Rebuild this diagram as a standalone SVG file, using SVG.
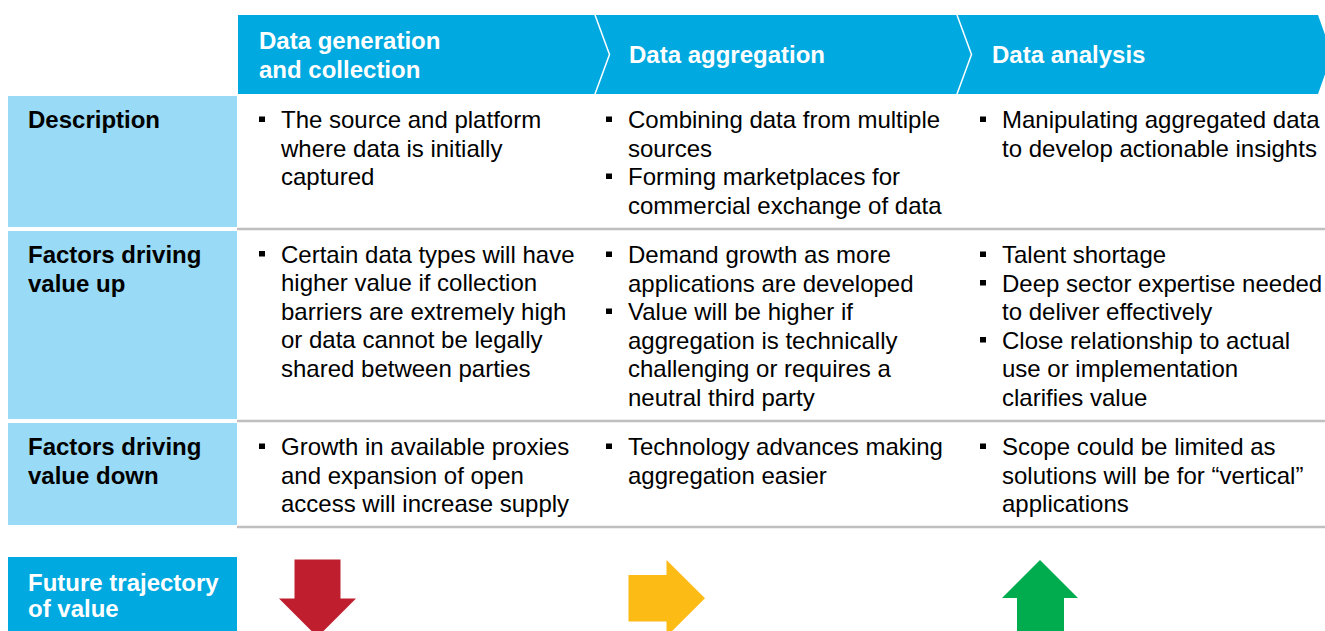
<svg xmlns="http://www.w3.org/2000/svg" width="1325" height="631" viewBox="0 0 1325 631">
<style>
  .hdr { font-family: "Liberation Sans", Arial, sans-serif; font-size: 24px; font-weight: bold; fill: #FFFFFF; }
  .lbl { font-family: "Liberation Sans", Arial, sans-serif; font-size: 24px; font-weight: bold; fill: #000000; }
  .txt { font-family: "Liberation Sans", Arial, sans-serif; font-size: 24px; fill: #000000; }
  .lblbox { fill: #99DBF6; }
  .bluebox { fill: #00A9E0; }
  .sep { stroke: #BFBFBF; stroke-width: 2.5; fill: none; }
  .chev { stroke: #FFFFFF; stroke-width: 1.5; fill: none; }
  .bul { fill: #000000; }
</style>
<rect x="0" y="0" width="1325" height="631" fill="#FFFFFF"/>

<g id="header">
  <polygon class="bluebox" points="238,15 1318,15 1332,54.5 1318,94 238,94"/>
  <polyline class="chev" points="595,15 609.5,54.5 595,94"/>
  <polyline class="chev" points="957,15 971.5,54.5 957,94"/>
  <g id="stage-generation">
    <text class="hdr" x="259" y="48.5">Data generation</text>
    <text class="hdr" x="259" y="77.5">and collection</text>
  </g>
  <g id="stage-aggregation">
    <text class="hdr" x="629" y="63">Data aggregation</text>
  </g>
  <g id="stage-analysis">
    <text class="hdr" x="992" y="63">Data analysis</text>
  </g>
</g>

<g id="row-labels">
  <g id="label-description">
    <rect class="lblbox" x="8" y="96" width="229" height="131"/>
    <text class="lbl" x="28" y="128">Description</text>
  </g>
  <g id="label-up">
    <rect class="lblbox" x="8" y="231" width="229" height="188"/>
    <text class="lbl" x="28" y="263">Factors driving</text>
    <text class="lbl" x="28" y="292">value up</text>
  </g>
  <g id="label-down">
    <rect class="lblbox" x="8" y="423" width="229" height="102"/>
    <text class="lbl" x="28" y="455">Factors driving</text>
    <text class="lbl" x="28" y="484">value down</text>
  </g>
  <g id="label-trajectory">
    <rect class="bluebox" x="8" y="557" width="229" height="74"/>
    <text class="hdr" x="28" y="591">Future trajectory</text>
    <text class="hdr" x="28" y="617">of value</text>
  </g>
</g>

<g id="separators">
  <line class="sep" x1="237" y1="229" x2="1325" y2="229"/>
  <line class="sep" x1="237" y1="421" x2="1325" y2="421"/>
  <line class="sep" x1="237" y1="527" x2="1325" y2="527"/>
</g>

<g id="col-generation">
  <rect class="bul" x="259" y="116.5" width="6" height="5.5"/>
  <text class="txt" x="281" y="128">The source and platform</text>
  <text class="txt" x="281" y="156.5">where data is initially</text>
  <text class="txt" x="281" y="185">captured</text>

  <rect class="bul" x="259" y="251" width="6" height="5.5"/>
  <text class="txt" x="281" y="262.5">Certain data types will have</text>
  <text class="txt" x="281" y="291">higher value if collection</text>
  <text class="txt" x="281" y="319.5">barriers are extremely high</text>
  <text class="txt" x="281" y="348">or data cannot be legally</text>
  <text class="txt" x="281" y="376.5">shared between parties</text>

  <rect class="bul" x="259" y="443.5" width="6" height="5.5"/>
  <text class="txt" x="281" y="455">Growth in available proxies</text>
  <text class="txt" x="281" y="483.5">and expansion of open</text>
  <text class="txt" x="281" y="512">access will increase supply</text>
</g>

<g id="col-aggregation">
  <rect class="bul" x="606" y="116.5" width="6" height="5.5"/>
  <text class="txt" x="628" y="128">Combining data from multiple</text>
  <text class="txt" x="628" y="156.5">sources</text>
  <rect class="bul" x="606" y="173.5" width="6" height="5.5"/>
  <text class="txt" x="628" y="185">Forming marketplaces for</text>
  <text class="txt" x="628" y="213.5">commercial exchange of data</text>

  <rect class="bul" x="606" y="251.5" width="6" height="5.5"/>
  <text class="txt" x="628" y="263">Demand growth as more</text>
  <text class="txt" x="628" y="291.5">applications are developed</text>
  <rect class="bul" x="606" y="308.5" width="6" height="5.5"/>
  <text class="txt" x="628" y="320">Value will be higher if</text>
  <text class="txt" x="628" y="348.5">aggregation is technically</text>
  <text class="txt" x="628" y="377">challenging or requires a</text>
  <text class="txt" x="628" y="405.5">neutral third party</text>

  <rect class="bul" x="606" y="443.5" width="6" height="5.5"/>
  <text class="txt" x="628" y="455">Technology advances making</text>
  <text class="txt" x="628" y="483.5">aggregation easier</text>
</g>

<g id="col-analysis">
  <rect class="bul" x="980" y="116.5" width="6" height="5.5"/>
  <text class="txt" x="1002" y="128">Manipulating aggregated data</text>
  <text class="txt" x="1002" y="156.5">to develop actionable insights</text>

  <rect class="bul" x="980" y="251.5" width="6" height="5.5"/>
  <text class="txt" x="1002" y="263">Talent shortage</text>
  <rect class="bul" x="980" y="280" width="6" height="5.5"/>
  <text class="txt" x="1002" y="291.5">Deep sector expertise needed</text>
  <text class="txt" x="1002" y="320">to deliver effectively</text>
  <rect class="bul" x="980" y="337" width="6" height="5.5"/>
  <text class="txt" x="1002" y="348.5">Close relationship to actual</text>
  <text class="txt" x="1002" y="377">use or implementation</text>
  <text class="txt" x="1002" y="405.5">clarifies value</text>

  <rect class="bul" x="980" y="443.5" width="6" height="5.5"/>
  <text class="txt" x="1002" y="455">Scope could be limited as</text>
  <text class="txt" x="1002" y="483.5">solutions will be for “vertical”</text>
  <text class="txt" x="1002" y="512">applications</text>
</g>

<g id="trajectory-arrows">
  <polygon id="arrow-down" fill="#BE1E2D" points="294.5,559.5 340.5,559.5 340.5,598.5 356,598.5 317.5,637 279,598.5 294.5,598.5"/>
  <polygon id="arrow-right" fill="#FDBB16" points="628.5,575 666.5,575 666.5,560 705,598.3 666.5,636.6 666.5,621.5 628.5,621.5"/>
  <polygon id="arrow-up" fill="#00AC4E" points="1040,560 1078,598 1064,598 1064,637 1017,637 1017,598 1002,598"/>
</g>
</svg>
